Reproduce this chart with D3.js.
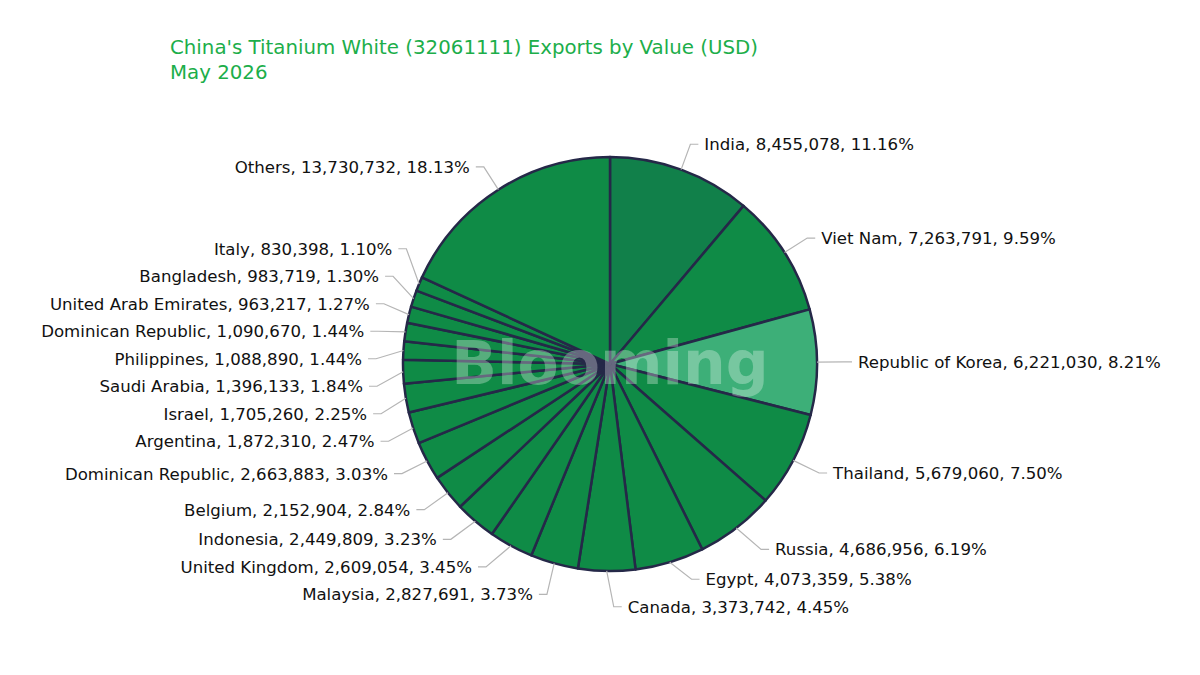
<!DOCTYPE html>
<html>
<head>
<meta charset="utf-8">
<script src="https://cdn.jsdelivr.net/npm/d3@7"></script>
<style>
  body { margin: 0; background: #fff; }
  svg text { font-family: "DejaVu Sans", "Noto Sans", sans-serif; }
</style>
</head>
<body>
<svg id="chart"></svg>
<script>
// data, clockwise from 12 o'clock
const countries = [
    "India", "Viet Nam", "Republic of Korea", "Thailand", "Russia", "Egypt", "Canada",
    "Malaysia", "United Kingdom", "Indonesia", "Belgium", "Dominican Republic", "Argentina",
    "Israel", "Saudi Arabia", "Philippines", "Dominican Republic", "United Arab Emirates",
    "Bangladesh", "Italy", "Others"
];
const exportValues = [
    8455078, 7263791, 6221030, 5679060, 4686956, 4073359, 3373742,
    2827691, 2609054, 2449809, 2152904, 2663883, 1872310,
    1705260, 1396133, 1088890, 1090670, 963217,
    983719, 830398, 13730732
];
// shares as printed (the slices follow these)
const shares = [
    11.16, 9.59, 8.21, 7.50, 6.19, 5.38, 4.45,
    3.73, 3.45, 3.23, 2.84, 3.03, 2.47,
    2.25, 1.84, 1.44, 1.44, 1.27,
    1.30, 1.10, 18.13
];
const titleLines = ["China's Titanium White (32061111) Exports by Value (USD)", "May 2026"];
const watermark = "Blooming";

const chartSettings = {
    width: 1200,
    height: 675,
    cx: 610,
    cy: 364,
    radius: 207,
    lineLen1: 27,   // radial part of the leader line
    lineLen2: 8,    // horizontal part
    labelGap: 6,
    labelStep: 27.5,  // min vertical distance between labels on one side
};

const data = countries.map((name, i) => ({
    name, value: exportValues[i], share: shares[i], index: i
}));

const { width, height, cx, cy, radius, lineLen1, lineLen2, labelGap, labelStep } = chartSettings;

const svg = d3.select("#chart").attr("width", width).attr("height", height);

// title
svg.append("g")
    .selectAll("text")
    .data(titleLines)
    .join("text")
    .attr("x", 170)
    .attr("y", (d, i) => 54 + i * 25)
    .attr("fill", "#1cae4a")
    .attr("font-size", 19.8)
    .text(d => d);

const pie = d3.pie().sort(null).value(d => d.share);
const arc = d3.arc().innerRadius(0).outerRadius(radius);
const arcs = pie(data);

const sliceColor = name =>
    name === "India" ? "#11804a" :
    name === "Republic of Korea" ? "#3daf78" : "#0f8b46";

const pieGroup = svg.append("g").attr("transform", `translate(${cx},${cy})`);

pieGroup.selectAll("path")
    .data(arcs, d => d.data.index)
    .join("path")
    .attr("d", arc)
    .attr("fill", d => sliceColor(d.data.name))
    .attr("stroke", "#252848")
    .attr("stroke-width", 2.5)
    .attr("stroke-linejoin", "round");

// watermark
svg.append("text")
    .attr("x", cx)
    .attr("y", cy + 20)
    .attr("text-anchor", "middle")
    .attr("font-family", "Lato, 'Noto Sans', sans-serif")
    .attr("font-size", 60)
    .attr("font-weight", "bold")
    .attr("fill", "#ffffff")
    .attr("fill-opacity", 0.3)
    .text(watermark);

// ---- label layout ----
const rA = radius + lineLen1;
const labels = arcs.map(a => {
    const mid = (a.startAngle + a.endAngle) / 2;
    const sx = Math.sin(mid), sy = -Math.cos(mid);
    return {
        d: a.data,
        side: sx > -0.05 ? 1 : -1,
        p1: [cx + radius * sx, cy + radius * sy],
        ex: rA * sx,
        y0: cy + rA * sy,
    };
});

// keep labels apart: pool neighbouring labels into blocks spaced by labelStep
function spread(items) {
    items.sort((a, b) => a.y0 - b.y0);
    const blocks = [];
    items.forEach(it => {
        blocks.push({ items: [it], c: it.y0 });
        while (blocks.length > 1) {
            const b = blocks[blocks.length - 1];
            const p = blocks[blocks.length - 2];
            if (b.c >= p.c + p.items.length * labelStep) break;
            const merged = p.items.concat(b.items);
            const c = d3.mean(merged, (m, k) => m.y0 - k * labelStep);
            blocks.splice(blocks.length - 2, 2, { items: merged, c });
        }
    });
    blocks.forEach(b => b.items.forEach((it, k) => { it.y = b.c + k * labelStep; }));
}

// put shifted labels on an ellipse through the outermost label of each half
function alignX(items) {
    [items.filter(it => it.y < cy), items.filter(it => it.y >= cy)].forEach(semi => {
        if (!semi.length) return;
        const far = semi.reduce((a, b) => Math.abs(b.y - cy) > Math.abs(a.y - cy) ? b : a);
        const fdx = Math.abs(far.ex);
        const rB = fdx < rA ? Math.abs(far.y - cy) / Math.sqrt(1 - (fdx * fdx) / (rA * rA)) : rA;
        semi.forEach(it => {
            const dy = Math.abs(it.y - cy);
            let dx = rA * Math.sqrt(Math.max(0, 1 - (dy * dy) / (rB * rB)));
            const nat = Math.abs(it.ex);
            dx = Math.max(nat - 14, Math.min(nat + 14, dx));
            it.elbow = [cx + it.side * dx, it.y];
        });
    });
}

[1, -1].forEach(side => {
    const items = labels.filter(l => l.side === side);
    spread(items);
    alignX(items);
});

labels.forEach(l => {
    l.p3 = [l.elbow[0] + l.side * lineLen2, l.y];
    l.tx = l.p3[0] + l.side * labelGap;
});

const fmt = d3.format(",");
const labelGroup = svg.append("g");

labelGroup.selectAll("polyline")
    .data(labels)
    .join("polyline")
    .attr("points", l => [l.p1, l.elbow, l.p3].map(p => p.join(",")).join(" "))
    .attr("fill", "none")
    .attr("stroke", "#b5b5b5")
    .attr("stroke-width", 1.2);

labelGroup.selectAll("text")
    .data(labels)
    .join("text")
    .attr("x", l => l.tx)
    .attr("y", l => l.y)
    .attr("dy", "0.36em")
    .attr("text-anchor", l => l.side > 0 ? "start" : "end")
    .attr("font-size", 16.6)
    .attr("fill", "#111")
    .text(l => `${l.d.name}, ${fmt(l.d.value)}, ${l.d.share.toFixed(2)}%`);
</script>
</body>
</html>
